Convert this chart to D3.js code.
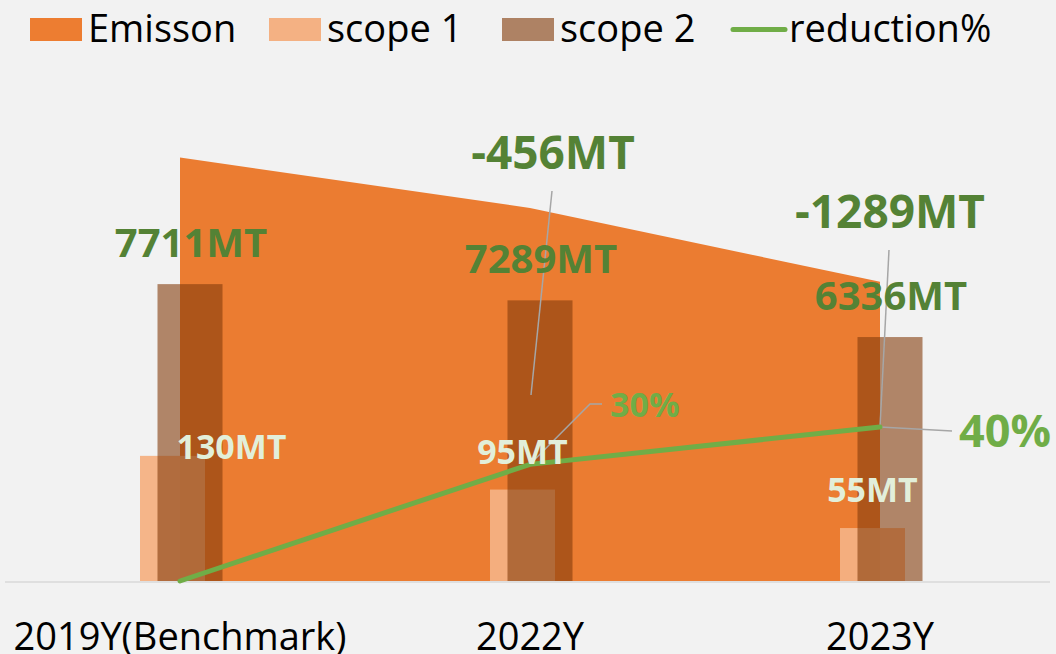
<!DOCTYPE html>
<html lang="en">
<head>
    <meta charset="UTF-8">
    <title>Emission reduction</title>
    <style>
        body {
            margin: 0;
            background-color: #f2f2f2;
        }
        svg {
            display: block;
            font-family: "Open Sans", "Noto Sans", sans-serif;
        }
        .legend text, .axis-label {
            font-size: 38px;
            fill: #000;
        }
        .leader {
            fill: none;
            stroke: #a6a6a6;
            stroke-width: 1.5px;
        }
    </style>
</head>
<body>
    <svg id="chart" width="1056" height="654"></svg>

    <script src="https://d3js.org/d3.v7.min.js"></script>
    <script>
        // data
        const categories = ["2019Y(Benchmark)", "2022Y", "2023Y"];
        const emission = [11000, 9690, 7770];
        const scope1 = [130, 95, 55];
        const scope2 = [7711, 7289, 6336];
        const reduction = [0, 0.303, 0.40];
        const deltas = [null, -456, -1289];
        const legendNames = ["Emisson", "scope 1", "scope 2", "reduction%"];

        const svg = d3.select("#chart");
        const W = 1056, H = 654;
        const baseY = 581, topY = 119;

        svg.append("rect").attr("width", W).attr("height", H).attr("fill", "#f2f2f2");

        const x = d3.scalePoint().domain(categories).range([180, 880]);
        const yMain = d3.scaleLinear().domain([0, 12000]).range([baseY, topY]);   // emission + scope 2
        const yS1 = d3.scaleLinear().domain([0, 480]).range([baseY, topY]);
        const yPct = d3.scaleLinear().domain([0, 1.2]).range([baseY, topY]);

        const barW = 65;
        const off1 = -7.5, off2 = 10;

        // axis line
        svg.append("line")
            .attr("x1", 5).attr("x2", 1050)
            .attr("y1", baseY + 1).attr("y2", baseY + 1)
            .attr("stroke", "#d9d9d9").attr("stroke-width", 1.5);

        // emission area
        const area = d3.area()
            .x((d, i) => x(categories[i]))
            .y0(baseY)
            .y1(d => yMain(d));
        svg.append("path")
            .datum(emission)
            .attr("d", area)
            .attr("fill", "#eb7c31");

        // scope 1 bars
        svg.selectAll(".s1")
            .data(scope1)
            .enter()
            .append("rect")
            .attr("class", "s1")
            .attr("x", (d, i) => x(categories[i]) + off1 - barW / 2)
            .attr("width", barW)
            .attr("y", d => yS1(d))
            .attr("height", d => baseY - yS1(d))
            .attr("fill", "#f4b183")
            .attr("fill-opacity", 0.95);

        // scope 2 bars
        svg.selectAll(".s2")
            .data(scope2)
            .enter()
            .append("rect")
            .attr("class", "s2")
            .attr("x", (d, i) => x(categories[i]) + off2 - barW / 2)
            .attr("width", barW)
            .attr("y", d => yMain(d))
            .attr("height", d => baseY - yMain(d))
            .attr("fill", "#843c0c")
            .attr("fill-opacity", 0.6);

        // leader lines (drawn under the reduction line)
        const p2022 = [x(categories[1]), yPct(reduction[1])];
        const p2023 = [x(categories[2]), yPct(reduction[2])];
        const leaders = [
            [[552, 191], [x(categories[1]) + 1, 395]],
            [[889, 250], p2023],
            [[602, 404], [590, 404], p2022],
            [p2023, [952, 431]]
        ];
        svg.selectAll(".leader")
            .data(leaders)
            .enter()
            .append("path")
            .attr("class", "leader")
            .attr("d", d3.line());

        // reduction line
        const line = d3.line()
            .x((d, i) => x(categories[i]))
            .y(d => yPct(d));
        svg.append("path")
            .datum(reduction)
            .attr("d", line)
            .attr("fill", "none")
            .attr("stroke", "#70ad47")
            .attr("stroke-width", 5)
            .attr("stroke-linecap", "round");

        // scope 2 labels
        svg.selectAll(".l2")
            .data(scope2)
            .enter()
            .append("text")
            .attr("x", (d, i) => x(categories[i]) + off2 + 1)
            .attr("y", d => yMain(d) - 27)
            .attr("text-anchor", "middle")
            .attr("font-size", 40)
            .attr("font-weight", 700)
            .attr("fill", "#548235")
            .text(d => d + "MT");

        // scope 1 labels
        const s1dx = [59, 0, 0], s1dy = [3, -26, -26];
        svg.selectAll(".l1")
            .data(scope1)
            .enter()
            .append("text")
            .attr("x", (d, i) => x(categories[i]) + off1 + s1dx[i])
            .attr("y", (d, i) => yS1(d) + s1dy[i])
            .attr("text-anchor", "middle")
            .attr("font-size", 34)
            .attr("font-weight", 700)
            .attr("fill", "#e2efda")
            .text(d => d + "MT");

        // delta labels
        const ddx = [0, 23, 10], ddy = [0, -39, -54];
        svg.selectAll(".ld")
            .data(deltas)
            .enter()
            .filter(d => d !== null)
            .append("text")
            .attr("x", (d, i) => x(categories[i + 1]) + ddx[i + 1])
            .attr("y", (d, i) => yMain(emission[i + 1]) + ddy[i + 1])
            .attr("text-anchor", "middle")
            .attr("font-size", 46)
            .attr("font-weight", 700)
            .attr("fill", "#548235")
            .text(d => d + "MT");

        // percent labels
        const fmtPct = d3.format(".0%");
        const pctPos = [null, {dx: 80, dy: -47, size: 34}, {dx: 79, dy: 20, size: 45}];
        reduction.forEach((v, i) => {
            if (!pctPos[i]) return;
            svg.append("text")
                .attr("x", x(categories[i]) + pctPos[i].dx)
                .attr("y", yPct(v) + pctPos[i].dy)
                .attr("font-size", pctPos[i].size)
                .attr("font-weight", 700)
                .attr("fill", "#70ad47")
                .text(fmtPct(v));
        });

        // category labels
        svg.selectAll(".axis-label")
            .data(categories)
            .enter()
            .append("text")
            .attr("class", "axis-label")
            .attr("x", d => x(d))
            .attr("y", 650)
            .attr("text-anchor", "middle")
            .text(d => d);

        // legend
        const legendX = [30, 269, 502, 731];
        const legendColors = ["#ed7d31", "#f4b183", "#ae8264", "#70ad47"];
        const legend = svg.append("g").attr("class", "legend");
        legendNames.forEach((name, i) => {
            if (i < 3) {
                legend.append("rect")
                    .attr("x", legendX[i]).attr("y", 18)
                    .attr("width", 52).attr("height", 23)
                    .attr("fill", legendColors[i]);
            } else {
                legend.append("line")
                    .attr("x1", legendX[i] + 2).attr("x2", legendX[i] + 54)
                    .attr("y1", 29.5).attr("y2", 29.5)
                    .attr("stroke", legendColors[i])
                    .attr("stroke-width", 5)
                    .attr("stroke-linecap", "round");
            }
            legend.append("text")
                .attr("x", legendX[i] + 58)
                .attr("y", 42)
                .text(name);
        });
    </script>
</body>
</html>
